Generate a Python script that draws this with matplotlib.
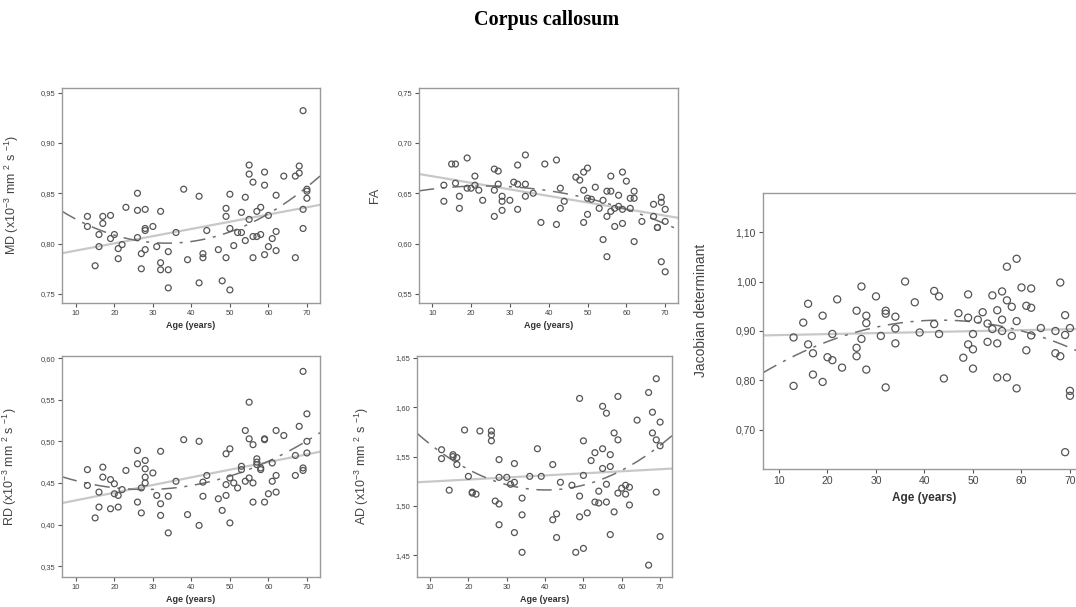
import numpy as np
import matplotlib
matplotlib.use("Agg")
import matplotlib.pyplot as plt
from matplotlib.ticker import FuncFormatter

# ---------------- data ----------------
md_age = [13, 13, 15, 16, 16, 17, 17, 19, 19, 20, 21, 21, 22, 23, 26, 26, 26, 27, 27, 28, 28, 28, 28,
          30, 31, 32, 32, 32, 34, 34, 34, 36, 38, 39, 42, 42, 43, 43, 44, 47, 48, 49, 49, 49, 50, 50, 50,
          51, 52, 53, 53, 54, 54, 55, 55, 55, 56, 56, 56, 57, 57, 58, 58, 59, 59, 59, 60, 60, 61, 62, 62,
          62, 64, 67, 67, 68, 68, 69, 69, 69, 70, 70, 70]
md_val = [0.827, 0.817, 0.778, 0.809, 0.797, 0.827, 0.820, 0.828, 0.805, 0.809, 0.795, 0.785, 0.799,
          0.836, 0.850, 0.833, 0.806, 0.790, 0.775, 0.834, 0.815, 0.813, 0.794, 0.817, 0.797, 0.832,
          0.781, 0.774, 0.792, 0.774, 0.756, 0.811, 0.854, 0.784, 0.847, 0.761, 0.790, 0.786, 0.813,
          0.794, 0.763, 0.835, 0.827, 0.786, 0.849, 0.815, 0.754, 0.798, 0.811, 0.831, 0.811, 0.846,
          0.803, 0.878, 0.869, 0.824, 0.861, 0.807, 0.786, 0.832, 0.807, 0.836, 0.809, 0.871, 0.858,
          0.789, 0.828, 0.797, 0.805, 0.848, 0.812, 0.793, 0.867, 0.867, 0.786, 0.877, 0.870, 0.932,
          0.834, 0.815, 0.854, 0.852, 0.845]

fa_age = [13, 13, 15, 16, 16, 17, 17, 19, 19, 20, 21, 21, 22, 23, 26, 26, 26, 27, 27, 28, 28, 28, 30,
          31, 32, 32, 32, 34, 34, 34, 36, 38, 39, 42, 42, 43, 43, 44, 47, 48, 49, 49, 49, 50, 50, 50, 51,
          52, 53, 54, 54, 55, 55, 55, 56, 56, 56, 57, 57, 58, 58, 59, 59, 59, 60, 61, 61, 62, 62, 62, 64,
          67, 67, 68, 68, 69, 69, 69, 70, 70, 70]
fa_val = [0.658, 0.642, 0.679, 0.679, 0.660, 0.647, 0.635, 0.685, 0.655, 0.655, 0.658, 0.667, 0.653,
          0.643, 0.674, 0.653, 0.627, 0.672, 0.659, 0.647, 0.642, 0.633, 0.643, 0.661, 0.678, 0.659,
          0.634, 0.688, 0.659, 0.647, 0.650, 0.621, 0.679, 0.683, 0.619, 0.655, 0.635, 0.642, 0.666,
          0.663, 0.671, 0.653, 0.621, 0.675, 0.645, 0.629, 0.644, 0.656, 0.635, 0.643, 0.604, 0.627,
          0.652, 0.587, 0.667, 0.652, 0.632, 0.635, 0.617, 0.648, 0.637, 0.671, 0.620, 0.634, 0.662,
          0.645, 0.635, 0.652, 0.645, 0.602, 0.622, 0.639, 0.627, 0.616, 0.616, 0.646, 0.641, 0.582,
          0.634, 0.622, 0.572]

rd_age = [13, 13, 15, 16, 16, 17, 17, 19, 19, 20, 20, 21, 21, 22, 23, 26, 26, 26, 27, 27, 28, 28, 28,
          28, 30, 31, 32, 32, 32, 34, 34, 36, 38, 39, 42, 42, 43, 43, 44, 47, 48, 49, 49, 49, 50, 50, 50,
          51, 52, 53, 53, 54, 54, 55, 55, 55, 56, 56, 56, 57, 57, 57, 58, 58, 59, 59, 59, 60, 61, 61, 62,
          62, 62, 64, 67, 67, 68, 69, 69, 69, 70, 70, 70]
rd_val = [0.466, 0.447, 0.408, 0.439, 0.421, 0.469, 0.457, 0.454, 0.419, 0.449, 0.437, 0.435, 0.421,
          0.442, 0.465, 0.489, 0.473, 0.427, 0.444, 0.414, 0.477, 0.467, 0.457, 0.450, 0.462, 0.435,
          0.488, 0.425, 0.411, 0.434, 0.390, 0.452, 0.502, 0.412, 0.500, 0.399, 0.451, 0.434, 0.459,
          0.431, 0.417, 0.448, 0.435, 0.485, 0.491, 0.456, 0.402, 0.450, 0.444, 0.470, 0.466, 0.513,
          0.452, 0.547, 0.503, 0.456, 0.496, 0.450, 0.427, 0.479, 0.475, 0.472, 0.466, 0.468, 0.503,
          0.502, 0.427, 0.437, 0.474, 0.452, 0.513, 0.459, 0.439, 0.507, 0.483, 0.459, 0.518, 0.584,
          0.468, 0.465, 0.533, 0.500, 0.486]

ad_age = [13, 13, 15, 16, 16, 17, 17, 19, 20, 21, 21, 22, 23, 26, 26, 26, 27, 28, 28, 28, 28, 30, 31,
          32, 32, 32, 34, 34, 34, 36, 38, 39, 42, 42, 43, 43, 44, 47, 48, 49, 49, 49, 50, 50, 50, 51, 52,
          53, 53, 54, 54, 55, 55, 55, 56, 56, 56, 57, 57, 57, 58, 58, 59, 59, 59, 60, 61, 61, 62, 62, 64,
          67, 67, 68, 68, 69, 69, 69, 70, 70, 70]
ad_val = [1.557, 1.548, 1.516, 1.552, 1.550, 1.549, 1.542, 1.577, 1.530, 1.514, 1.513, 1.512, 1.576,
          1.576, 1.572, 1.566, 1.505, 1.547, 1.529, 1.502, 1.481, 1.529, 1.522, 1.524, 1.543, 1.473,
          1.508, 1.491, 1.453, 1.530, 1.558, 1.530, 1.542, 1.486, 1.492, 1.468, 1.524, 1.521, 1.453,
          1.609, 1.510, 1.489, 1.566, 1.531, 1.457, 1.493, 1.546, 1.554, 1.504, 1.515, 1.503, 1.601,
          1.538, 1.558, 1.594, 1.522, 1.504, 1.552, 1.540, 1.471, 1.494, 1.574, 1.567, 1.513, 1.611,
          1.518, 1.521, 1.512, 1.519, 1.501, 1.587, 1.615, 1.440, 1.595, 1.574, 1.567, 1.514, 1.629,
          1.585, 1.561, 1.469]

jd_age = [13, 13, 15, 16, 16, 17, 17, 19, 19, 20, 21, 21, 22, 23, 26, 26, 26, 27, 27, 28, 28, 28, 30,
          31, 32, 32, 32, 34, 34, 34, 36, 38, 39, 42, 42, 43, 43, 44, 47, 48, 49, 49, 49, 50, 50, 50, 51,
          52, 53, 53, 54, 54, 55, 55, 55, 56, 56, 56, 57, 57, 57, 58, 58, 59, 59, 59, 60, 61, 61, 62, 62,
          62, 64, 67, 67, 68, 68, 69, 69, 69, 70, 70, 70]
jd_val = [0.789, 0.887, 0.917, 0.955, 0.873, 0.855, 0.812, 0.931, 0.797, 0.847, 0.841, 0.894, 0.964,
          0.826, 0.941, 0.849, 0.866, 0.990, 0.884, 0.931, 0.916, 0.822, 0.970, 0.890, 0.941, 0.935,
          0.786, 0.929, 0.905, 0.875, 1.000, 0.958, 0.897, 0.981, 0.914, 0.970, 0.894, 0.804, 0.936,
          0.846, 0.974, 0.927, 0.873, 0.894, 0.863, 0.824, 0.923, 0.938, 0.915, 0.878, 0.972, 0.904,
          0.942, 0.875, 0.806, 0.980, 0.923, 0.900, 1.030, 0.962, 0.806, 0.949, 0.890, 1.046, 0.920,
          0.784, 0.988, 0.951, 0.861, 0.947, 0.891, 0.986, 0.906, 0.900, 0.855, 0.998, 0.849, 0.932,
          0.892, 0.655, 0.906, 0.779, 0.769]

x_ticks = [10, 20, 30, 40, 50, 60, 70]
md_ticks = [0.75, 0.80, 0.85, 0.90, 0.95]
fa_ticks = [0.55, 0.60, 0.65, 0.70, 0.75]
rd_ticks = [0.35, 0.40, 0.45, 0.50, 0.55, 0.60]
ad_ticks = [1.45, 1.50, 1.55, 1.60, 1.65]
jd_ticks = [0.70, 0.80, 0.90, 1.00, 1.10]

title = "Corpus callosum"
x_label = "Age (years)"
md_label = r"MD (x10$^{-3}$ mm $^{2}$ s $^{-1}$)"
fa_label = "FA"
rd_label = r"RD (x10$^{-3}$ mm $^{2}$ s $^{-1}$)"
ad_label = r"AD (x10$^{-3}$ mm $^{2}$ s $^{-1}$)"
jd_label = "Jacobian determinant"

# ---------------- drawing ----------------
W, H = 1076, 607
fig = plt.figure(figsize=(W / 100, H / 100), dpi=100)
plt.rcParams['font.family'] = ['Liberation Sans', 'DejaVu Sans']
plt.rcParams['mathtext.fontset'] = 'custom'
plt.rcParams['mathtext.rm'] = 'Liberation Sans'
plt.rcParams['mathtext.it'] = 'Liberation Sans'

fig.text(547 / W, 1 - 20 / H, title, ha='center', va='center', fontsize=14.5,
         fontweight='bold', family='Liberation Serif')

comma = FuncFormatter(lambda v, p: f"{v:.2f}".replace('.', ','))


def make_ax(px, ages, vals, yticks, ylim, ylabel, xlim, lab_x, lab_y, small=True):
    l, r, t, b = px
    ax = fig.add_axes([l / W, 1 - b / H, (r - l) / W, (b - t) / H])
    ages = np.asarray(ages, float)
    vals = np.asarray(vals, float)
    ms = 18 if small else 26
    ax.scatter(ages, vals, s=ms, facecolors='none', edgecolors='#555555', linewidths=0.9, zorder=3)
    xs = np.linspace(xlim[0], xlim[1], 200)
    c1 = np.polyfit(ages, vals, 1)
    c2 = np.polyfit(ages, vals, 2)
    ax.plot(xs, np.polyval(c1, xs), color='#c8c8c8', lw=1.6, zorder=2)
    ax.plot(xs, np.polyval(c2, xs), color='#707070', lw=1.1, zorder=2,
            linestyle=(0, (10, 5, 2, 5)))
    ax.set_xlim(*xlim)
    ax.set_ylim(*ylim)
    ax.set_xticks(x_ticks)
    ax.set_yticks(yticks)
    ax.yaxis.set_major_formatter(comma)
    fs = 5.5 if small else 7.5
    ax.tick_params(axis='both', labelsize=fs, colors='#555555', length=3, width=0.8,
                   labelcolor='#444444', pad=2)
    for s in ax.spines.values():
        s.set_color('#9a9a9a')
        s.set_linewidth(1.0)
    ax.set_xlabel(x_label, fontsize=6.5 if small else 8.5, fontweight='bold', color='#333333',
                  labelpad=3 if small else 4)
    ax.set_ylabel(ylabel, fontsize=9 if small else 10, color='#444444')
    ax.yaxis.set_label_coords(lab_x, lab_y)
    return ax


make_ax((62, 320, 88, 303), md_age, md_val, md_ticks, (0.741, 0.9545), md_label,
        (6.4, 73.4), -0.16, 0.5)
make_ax((419, 678, 88, 303), fa_age, fa_val, fa_ticks, (0.541, 0.7545), fa_label,
        (6.6, 73.3), -0.145, 0.5)
make_ax((62, 320, 356, 577), rd_age, rd_val, rd_ticks, (0.337, 0.6025), rd_label,
        (6.4, 73.4), -0.168, 0.5)
make_ax((417, 672, 356, 577), ad_age, ad_val, ad_ticks, (1.428, 1.652), ad_label,
        (6.6, 73.1), -0.18, 0.5)
make_ax((763, 1085, 193, 469), jd_age, jd_val, jd_ticks, (0.621, 1.179), jd_label,
        (6.7, 73.1), -0.17, 0.576, small=False)

fig.savefig("out.png", dpi=100)
